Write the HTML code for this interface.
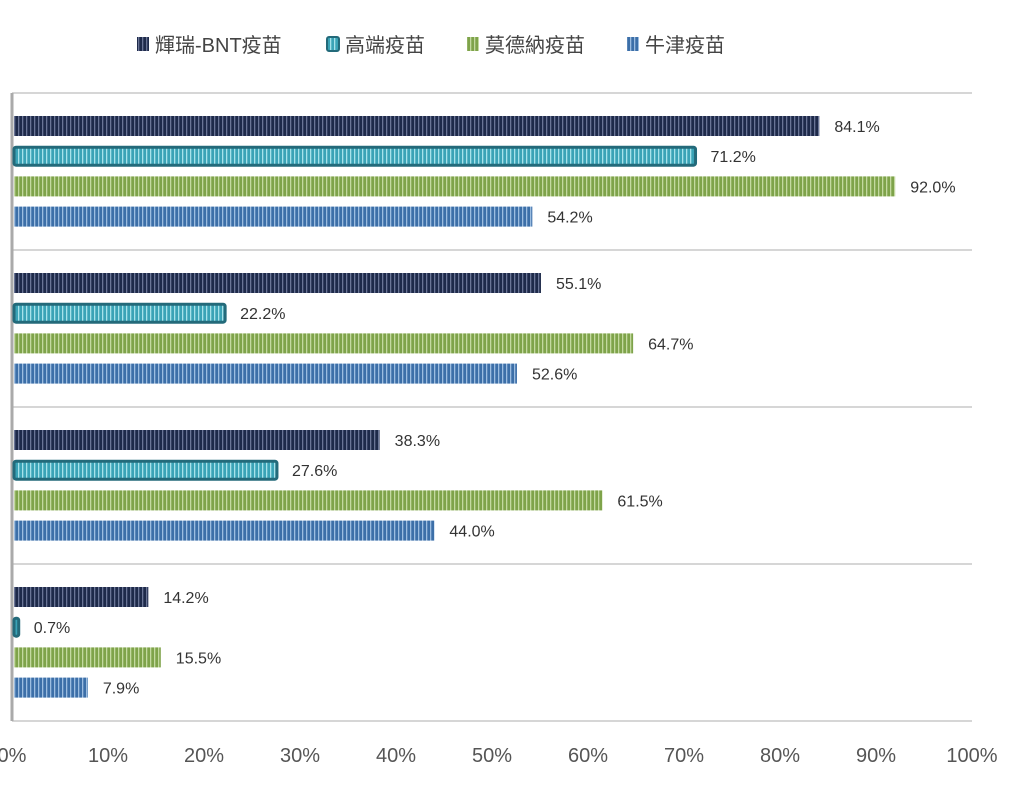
<!DOCTYPE html>
<html><head><meta charset="utf-8"><style>
body{margin:0;background:#fff;}
svg text{font-family:"Liberation Sans","Noto Sans CJK TC",sans-serif;}
</style></head><body>
<svg id="chart" width="1024" height="781" xmlns="http://www.w3.org/2000/svg">
<defs>
<pattern id="p0" width="4" height="4" patternUnits="userSpaceOnUse"><rect width="4" height="4" fill="#1e2a4a"/><rect x="2" width="1.3" height="4" fill="#6a7596"/></pattern>
<pattern id="p1" width="4" height="4" patternUnits="userSpaceOnUse"><rect width="4" height="4" fill="#3aa3b6"/><rect x="2" width="1.3" height="4" fill="#a6e2ea"/></pattern>
<pattern id="p2" width="4" height="4" patternUnits="userSpaceOnUse"><rect width="4" height="4" fill="#7ea34a"/><rect x="2" width="1.3" height="4" fill="#c3d9a0"/></pattern>
<pattern id="p3" width="4" height="4" patternUnits="userSpaceOnUse"><rect width="4" height="4" fill="#3c6fa8"/><rect x="2" width="1.3" height="4" fill="#9cbde0"/></pattern>
</defs>
<g id="grid"></g><g id="bars"></g><g id="labels"></g><g id="legend"></g>
</svg>
<script>
const seriesNames=["輝瑞-BNT疫苗","高端疫苗","莫德納疫苗","牛津疫苗"];
const group1=[84.1,71.2,92.0,54.2];
const group2=[55.1,22.2,64.7,52.6];
const group3=[38.3,27.6,61.5,44.0];
const group4=[14.2,0.7,15.5,7.9];
const groups=[group1,group2,group3,group4];
const ticks=[0,10,20,30,40,50,60,70,80,90,100];
const NS="http://www.w3.org/2000/svg";
const x0=12,x1=972,yTop=93,groupH=157;
const xs=v=>x0+(x1-x0)*v/100;
function mk(tag,attrs,parent,txt){const e=document.createElementNS(NS,tag);for(const k in attrs)e.setAttribute(k,attrs[k]);if(txt!=null)e.textContent=txt;document.getElementById(parent).appendChild(e);return e;}
for(let g=0;g<=groups.length;g++){
  const y=yTop+g*groupH;
  const l=mk('line',{x1:x0,x2:x1,y1:y,y2:y,stroke:'#c8c8c8','stroke-width':1.5},'grid');
  
  
}
const ax=mk('line',{x1:x0,x2:x0,y1:yTop,y2:yTop+groupH*groups.length,stroke:'#aaa','stroke-width':3},'grid');


ticks.forEach(t=>{
  const tx=mk('text',{x:xs(t),y:762,'text-anchor':'middle','font-size':20,fill:'#555'},'labels',t+'%');
  
  
});
groups.forEach((vals,g)=>{
  vals.forEach((v,s)=>{
    const cy=yTop+33+g*groupH+s*30.2;
    const w=xs(v)-x0;
    const attrs={x:x0+2,y:cy-10,width:Math.max(w-2,2),height:20,fill:'url(#p'+s+')'};
    if(s===1){attrs.stroke='#236a7a';attrs['stroke-width']=3;attrs.rx=2;attrs.y=cy-9;attrs.height=18;}
    const r=mk('rect',attrs,'bars');
    
    
    const t=mk('text',{x:xs(v)+15,y:cy+6,'font-size':16,fill:'#333'},'labels',v.toFixed(1)+'%');
    
    
  });
});
const legX=[137,327,467,627];
seriesNames.forEach((n,i)=>{
  const r=mk('rect',{x:legX[i],y:37,width:12,height:14,fill:'url(#p'+i+')',rx:i===1?2:0,stroke:i===1?'#236a7a':'none','stroke-width':2},'legend');
  
  
  const t=mk('text',{x:legX[i]+18,y:52,'font-size':20,fill:'#444'},'legend',n);
  
  
});
</script>
</body></html>
